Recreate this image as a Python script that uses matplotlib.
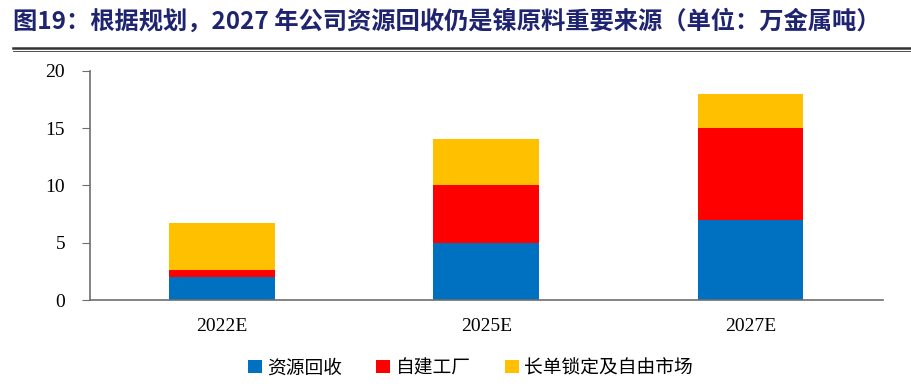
import matplotlib
matplotlib.use("Agg")
import matplotlib.pyplot as plt
from matplotlib.lines import Line2D
import numpy as np

categories = ["2022E", "2025E", "2027E"]
recycle = [2.0, 5.0, 7.0]
own_plant = [0.6, 5.0, 8.0]
long_term = [4.1, 4.0, 3.0]
series_names = ["资源回收", "自建工厂", "长单锁定及自由市场"]
colors = ["#0070C0", "#FF0000", "#FFC000"]
yticks = [0, 5, 10, 15, 20]

plt.rcParams['font.family'] = ['Noto Sans CJK SC', 'DejaVu Sans']

fig = plt.figure(figsize=(9.12, 3.91), dpi=100)
ax = fig.add_axes([0.0987, 0.2327, 0.869, 0.5865])

x = np.arange(len(categories))
bottom = np.zeros(len(categories))
for vals, name, c in zip([recycle, own_plant, long_term], series_names, colors):
    ax.bar(x, vals, 0.4, bottom=bottom, color=c, label=name, linewidth=0)
    bottom += np.array(vals)

ax.set_xlim(-0.5, 2.5)
ax.set_ylim(0, 20)
ax.set_yticks(yticks)
ax.set_xticks(x)
ax.set_xticklabels(categories, fontfamily='Liberation Serif', fontsize=14)
ax.set_yticklabels([str(v) for v in yticks], fontfamily='Liberation Serif', fontsize=14)
for s in ['top', 'right']:
    ax.spines[s].set_visible(False)
for s in ['left', 'bottom']:
    ax.spines[s].set_color('#6E6E6E')
    ax.spines[s].set_linewidth(1.2)
ax.tick_params(axis='y', direction='out', length=6, color='#6E6E6E', pad=12)
ax.tick_params(axis='x', length=0, pad=13)

leg = ax.legend(loc='center', bbox_to_anchor=(0.48, -0.295), ncol=3, frameon=False,
                fontsize=13.5, handlelength=0.75, handleheight=0.75, handletextpad=0.3,
                columnspacing=1.8)

fig.text(0.014, 0.944, "图19：根据规划，2027 年公司资源回收仍是镍原料重要来源（单位：万金属吨）",
         fontsize=17.5, fontweight='bold', color='#1F2470', va='center', ha='left')
fig.add_artist(Line2D([0.014, 1.0], [0.878, 0.878], color='#333333', linewidth=1.8))
fig.add_artist(Line2D([0.014, 1.0], [0.870, 0.870], color='#333333', linewidth=0.6))

fig.savefig("out.png", dpi=100)
